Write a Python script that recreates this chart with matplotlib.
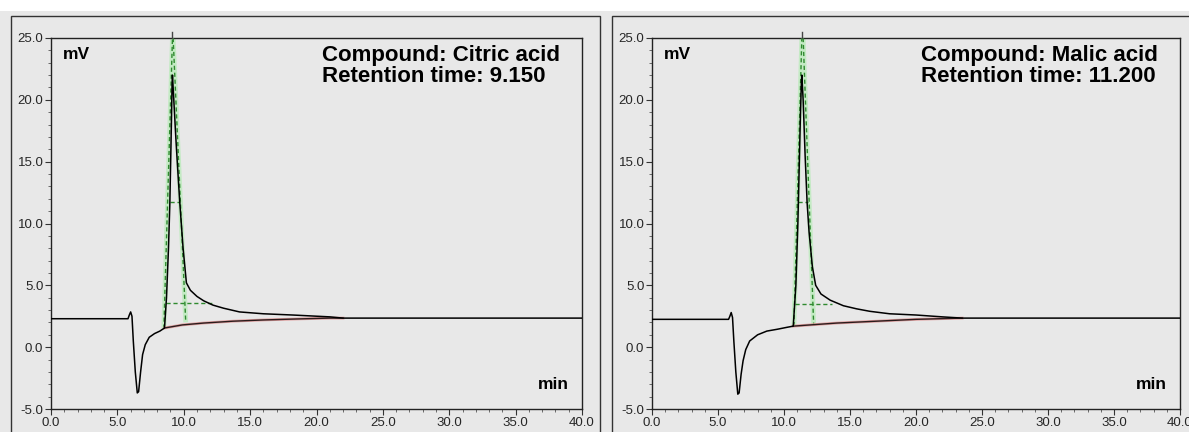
import matplotlib.pyplot as plt
from matplotlib.patches import Rectangle
from matplotlib.ticker import MultipleLocator, FormatStrFormatter

plt.rcParams['font.family'] = ['Liberation Sans', 'DejaVu Sans']

# --- Citric acid chromatogram (time in min, signal in mV) ---
citric_t = [0.0, 5.8, 5.9, 6.0, 6.1, 6.2, 6.35, 6.5, 6.6, 6.75, 6.9, 7.1, 7.4, 7.8, 8.2, 8.55,
            8.7, 8.85, 8.95, 9.05, 9.12, 9.15, 9.25, 9.4, 9.55, 9.7, 9.95, 10.2, 10.5, 11.0,
            11.5, 12.2, 13.0, 14.2, 16.0, 18.2, 21.0, 22.0, 40.0]
citric_y = [2.3, 2.3, 2.6, 2.85, 2.5, 0.5, -2.0, -3.7, -3.6, -2.0, -0.6, 0.2, 0.8, 1.1, 1.3, 1.55,
            4.0, 8.0, 11.5, 17.0, 21.2, 22.0, 20.0, 17.0, 14.3, 11.7, 8.0, 5.2, 4.6, 4.1,
            3.75, 3.4, 3.15, 2.85, 2.7, 2.6, 2.45, 2.35, 2.35]
citric_base_t = [8.55, 9.9, 11.5, 13.7, 16.0, 18.5, 21.0, 22.0]
citric_base_y = [1.55, 1.8, 1.95, 2.1, 2.2, 2.28, 2.35, 2.35]
citric_tangent_l = ([8.5, 9.15], [1.5, 25.0])
citric_tangent_r = ([9.2, 10.15], [25.0, 2.0])
citric_width_lo = ([8.65, 12.1], [3.55, 3.55])
citric_width_hi = ([8.95, 9.75], [11.7, 11.7])

# --- Malic acid chromatogram ---
malic_t = [0.0, 5.8, 5.9, 6.0, 6.1, 6.2, 6.35, 6.5, 6.6, 6.75, 6.9, 7.1, 7.4, 8.0, 8.7, 9.5,
           10.2, 10.7, 10.9, 11.05, 11.15, 11.25, 11.32, 11.35, 11.45, 11.6, 11.75, 11.9, 12.15,
           12.4, 12.8, 13.5, 14.5, 15.5, 16.5, 18.0, 20.0, 22.0, 23.5, 40.0]
malic_y = [2.25, 2.25, 2.5, 2.8, 2.4, 0.5, -2.0, -3.8, -3.7, -2.2, -1.1, -0.2, 0.5, 1.0, 1.3, 1.45,
           1.6, 1.7, 5.0, 10.0, 14.5, 19.0, 21.5, 22.0, 20.0, 15.5, 11.7, 9.3, 6.5,
           5.0, 4.3, 3.8, 3.35, 3.1, 2.9, 2.7, 2.6, 2.45, 2.35, 2.35]
malic_base_t = [10.7, 12.0, 14.0, 16.0, 18.0, 20.0, 23.5]
malic_base_y = [1.7, 1.8, 1.95, 2.05, 2.15, 2.25, 2.35]
malic_tangent_l = ([10.75, 11.35], [1.7, 25.0])
malic_tangent_r = ([11.45, 12.25], [25.0, 1.75])
malic_width_lo = ([10.8, 13.6], [3.5, 3.5])
malic_width_hi = ([11.05, 11.8], [11.7, 11.7])

panels = [
    dict(t=citric_t, y=citric_y, bt=citric_base_t, by=citric_base_y,
         tl=citric_tangent_l, tr=citric_tangent_r, wlo=citric_width_lo, whi=citric_width_hi,
         label="Compound: Citric acid\nRetention time: 9.150", rt=9.15),
    dict(t=malic_t, y=malic_y, bt=malic_base_t, by=malic_base_y,
         tl=malic_tangent_l, tr=malic_tangent_r, wlo=malic_width_lo, whi=malic_width_hi,
         label="Compound: Malic acid\nRetention time: 11.200", rt=11.35),
]

W, H = 1189, 432
fig = plt.figure(figsize=(W / 100, H / 100), dpi=100, facecolor='white')
bg = '#e8e8e8'

# grey window area and panel frames
fig.add_artist(Rectangle((0, 0), 1, 1 - 11 / H, transform=fig.transFigure,
                         facecolor=bg, edgecolor='none', zorder=0))
for x0, x1 in [(11, 600), (612, 1195)]:
    fig.add_artist(Rectangle((x0 / W, -0.05), (x1 - x0) / W, 1.05 - 16 / H,
                             transform=fig.transFigure, facecolor='none',
                             edgecolor='#333333', lw=1.0, zorder=1))

axes_px = [(51, 582), (652, 1180)]
top, bottom = 38, 409

for (x0, x1), p in zip(axes_px, panels):
    ax = fig.add_axes([x0 / W, 1 - bottom / H, (x1 - x0) / W, (bottom - top) / H])
    ax.set_facecolor(bg)
    ax.set_xlim(0, 40)
    ax.set_ylim(-5, 25)

    green_glow = dict(color='#c4eac4', lw=3.5, solid_capstyle='butt', zorder=2)
    green_dash = dict(color='#2f8a2f', lw=1.0, ls=(0, (3, 2)), zorder=3)
    for seg in (p['tl'], p['tr']):
        ax.plot(seg[0], seg[1], **green_glow)
        ax.plot(seg[0], seg[1], **green_dash)
    for seg in (p['wlo'], p['whi']):
        ax.plot(seg[0], seg[1], **green_dash)

    ax.plot(p['bt'], p['by'], color='#e0a0a0', lw=2.0, zorder=3)
    ax.plot(p['bt'], p['by'], color='#2a1c1c', lw=1.0, zorder=4)
    ax.plot(p['t'], p['y'], color='black', lw=1.1, zorder=5)
    ax.plot([p['rt'], p['rt']], [25.0, 25.5], color='#444444', lw=1.0, clip_on=False, zorder=5)

    ax.text(0.9, 24.3, "mV", fontsize=12.5, fontweight='bold', va='top', ha='left')
    ax.text(39.0, -3.6, "min", fontsize=12.5, fontweight='bold', va='bottom', ha='right')
    ax.text(20.4, 24.4, p['label'], fontsize=16, fontweight='bold', va='top', ha='left',
            linespacing=1.0)

    ax.xaxis.set_major_locator(MultipleLocator(5))
    ax.xaxis.set_minor_locator(MultipleLocator(1))
    ax.yaxis.set_major_locator(MultipleLocator(5))
    ax.yaxis.set_minor_locator(MultipleLocator(1))
    ax.xaxis.set_major_formatter(FormatStrFormatter('%.1f'))
    ax.yaxis.set_major_formatter(FormatStrFormatter('%.1f'))
    ax.tick_params(which='major', direction='out', length=4.5, width=0.8, color='#333333',
                   labelsize=9.5, labelcolor='#262626', pad=1.0)
    ax.tick_params(which='minor', direction='out', length=2.2, width=0.6, color='#555555')
    for s in ax.spines.values():
        s.set_color('#222222')
        s.set_linewidth(1.0)

fig.savefig('out.png', dpi=100, facecolor=fig.get_facecolor())
